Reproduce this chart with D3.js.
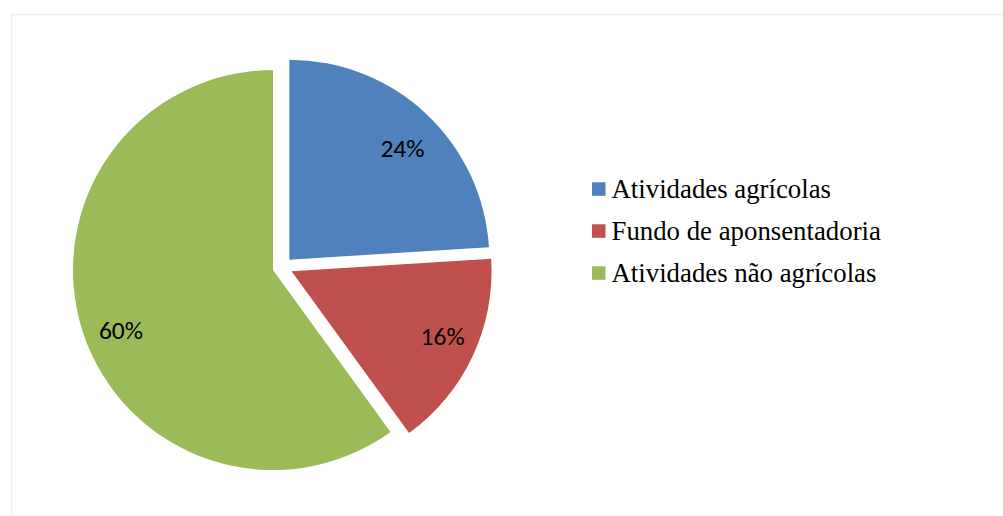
<!DOCTYPE html>
<html><head><meta charset="utf-8">
<script src="https://cdn.jsdelivr.net/npm/d3@7"></script>
<style>html,body{margin:0;padding:0;background:#fff;}svg{display:block;}</style>
</head><body>
<svg id="chart" width="1003" height="516"></svg>
<script>
const categories = ["Atividades agrícolas", "Fundo de aponsentadoria", "Atividades não agrícolas"];
const values = [24, 16, 60];
const labels = ["24%", "16%", "60%"];
const colors = ["#4F81BD", "#C0504D", "#9BBB59"];

const svg = d3.select("#chart");
svg.append("rect").attr("x", 11.5).attr("y", 14.5).attr("width", 1000).attr("height", 510)
  .attr("fill", "#fff").attr("stroke", "#efefef").attr("stroke-width", 1.5);

const cx = 282.5, cy = 267, r = 200, explode = 10;
const pie = d3.pie().sort(null).value(d => d)(values);
const arc = d3.arc().innerRadius(0).outerRadius(r);
const g = svg.append("g").attr("transform", `translate(${cx},${cy})`);
const labelRatio = [0.79, 0.825, 0.82];
const labelShift = [2.5, -1.5, -4];
pie.forEach((p, i) => {
  const mid = (p.startAngle + p.endAngle) / 2;
  const dx = Math.sin(mid) * explode, dy = -Math.cos(mid) * explode;
  const sg = g.append("g").attr("transform", `translate(${dx},${dy})`);
  sg.append("path").attr("d", arc(p)).attr("fill", colors[i]);
  const la = mid + labelShift[i] * Math.PI / 180;
  const lx = Math.sin(la) * r * labelRatio[i], ly = -Math.cos(la) * r * labelRatio[i];
  sg.append("text").attr("x", lx).attr("y", ly).attr("dy", "0.28em")
    .attr("text-anchor", "middle").attr("font-family", "Carlito, Lato, 'Open Sans', sans-serif")
    .attr("font-size", 25.5).attr("fill", "#000").text(labels[i]);
});

const legend = svg.append("g").attr("transform", "translate(592,182.3)");
categories.forEach((c, i) => {
  const row = legend.append("g").attr("transform", `translate(0,${i * 42})`);
  row.append("rect").attr("width", 13.5).attr("height", 13.5).attr("fill", colors[i]);
  row.append("text").attr("x", 19.5).attr("y", 15.5)
    .attr("font-family", "'Liberation Serif', 'Times New Roman', serif")
    .attr("font-size", 26.8).attr("fill", "#000").text(c);
});
</script>
</body></html>
